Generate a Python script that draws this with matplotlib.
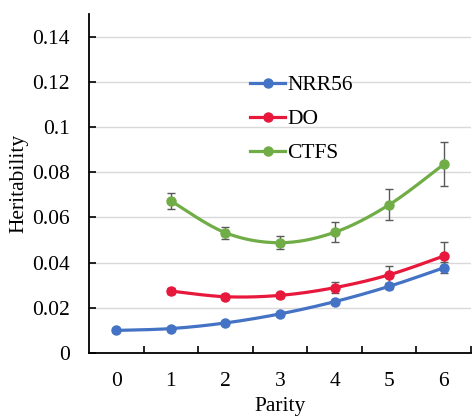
import numpy as np
import matplotlib
matplotlib.use("Agg")
import matplotlib.pyplot as plt

plt.rcParams["font.family"] = ["Liberation Serif", "DejaVu Serif"]

# values
parity = [0, 1, 2, 3, 4, 5, 6]
nrr56 = [0.0100, 0.0108, 0.0133, 0.0173, 0.0227, 0.0295, 0.0377]
nrr56_err = [0.0004, 0.0005, 0.0006, 0.0007, 0.0009, 0.0013, 0.0025]
do_par = [1, 2, 3, 4, 5, 6]
do = [0.0274, 0.0249, 0.0255, 0.0289, 0.0346, 0.0429]
do_err = [0.0014, 0.0010, 0.0012, 0.0024, 0.0040, 0.0060]
ctfs_par = [1, 2, 3, 4, 5, 6]
ctfs = [0.0673, 0.0532, 0.0488, 0.0534, 0.0656, 0.0835]
ctfs_err = [0.0035, 0.0026, 0.0030, 0.0044, 0.0068, 0.0097]

BLUE = "#4472C4"
RED = "#E8183C"
GREEN = "#70AD47"
ERR = "#595959"


def smooth(xs, ys, n=30):
    # Excel-style smoothed line: cubic Bezier through the points
    x = np.asarray(xs, float)
    y = np.asarray(ys, float)
    px = np.concatenate([[x[0]], x, [x[-1]]])
    py = np.concatenate([[y[0]], y, [y[-1]]])
    ox, oy = [], []
    t = np.linspace(0, 1, n)
    for i in range(1, len(px) - 2):
        p0 = np.array([px[i], py[i]])
        p3 = np.array([px[i + 1], py[i + 1]])
        c1 = p0 + (p3 - np.array([px[i - 1], py[i - 1]])) / 6
        c2 = p3 - (np.array([px[i + 2], py[i + 2]]) - p0) / 6
        b = ((1 - t) ** 3)[:, None] * p0 + (3 * (1 - t) ** 2 * t)[:, None] * c1 \
            + (3 * (1 - t) * t ** 2)[:, None] * c2 + (t ** 3)[:, None] * p3
        ox.extend(b[:, 0])
        oy.extend(b[:, 1])
    return ox, oy


fig = plt.figure(figsize=(4.72, 4.18), dpi=100)
ax = fig.add_axes([89 / 472, 65 / 418, 1 - 89 / 472 - 0.002, (353 - 14) / 418])

for xs, ys, es, c, lab in [(parity, nrr56, nrr56_err, BLUE, "NRR56"),
                           (do_par, do, do_err, RED, "DO"),
                           (ctfs_par, ctfs, ctfs_err, GREEN, "CTFS")]:
    ax.errorbar(xs, ys, yerr=es, fmt="none", ecolor=ERR, elinewidth=1,
                capsize=3, capthick=1, zorder=2)
    sx, sy = smooth(xs, ys)
    ax.plot(sx, sy, color=c, lw=2.3, zorder=3)
    ax.plot(xs, ys, "o", color=c, ms=6.5, zorder=4)
    ax.plot([], [], "-o", color=c, lw=2.3, ms=6.5, label=lab)

ax.set_xlim(-0.5, 6.5)
ax.set_ylim(0, 0.15)
ax.set_yticks(np.arange(0, 0.141, 0.02))
ax.set_yticklabels(["0", "0.02", "0.04", "0.06", "0.08", "0.1", "0.12", "0.14"])
ax.set_xticks(parity)
ax.set_xticks(np.arange(0.5, 6.6, 1), minor=True)
ax.tick_params(axis="x", which="major", length=0, pad=14, labelsize=15.5)
ax.tick_params(axis="x", which="minor", direction="in", length=5, width=1.2)
ax.tick_params(axis="y", direction="in", length=5, width=1.2, pad=14, labelsize=15.5)

ax.grid(axis="y", color="#D9D9D9", lw=1)
ax.set_axisbelow(True)
for s in ["top", "right"]:
    ax.spines[s].set_visible(False)
for s in ["left", "bottom"]:
    ax.spines[s].set_linewidth(1.3)
    ax.spines[s].set_color("black")

ax.set_xlabel("Parity", fontsize=15.5, labelpad=4)
ax.set_ylabel("Heritability", fontsize=15.5, labelpad=2)

ax.legend(loc="upper left", bbox_to_anchor=(0.4, 0.845), frameon=False,
          fontsize=15.5, handlelength=1.6, handletextpad=0.1, labelspacing=0.65,
          borderaxespad=0)

fig.savefig("out.png", dpi=100)
